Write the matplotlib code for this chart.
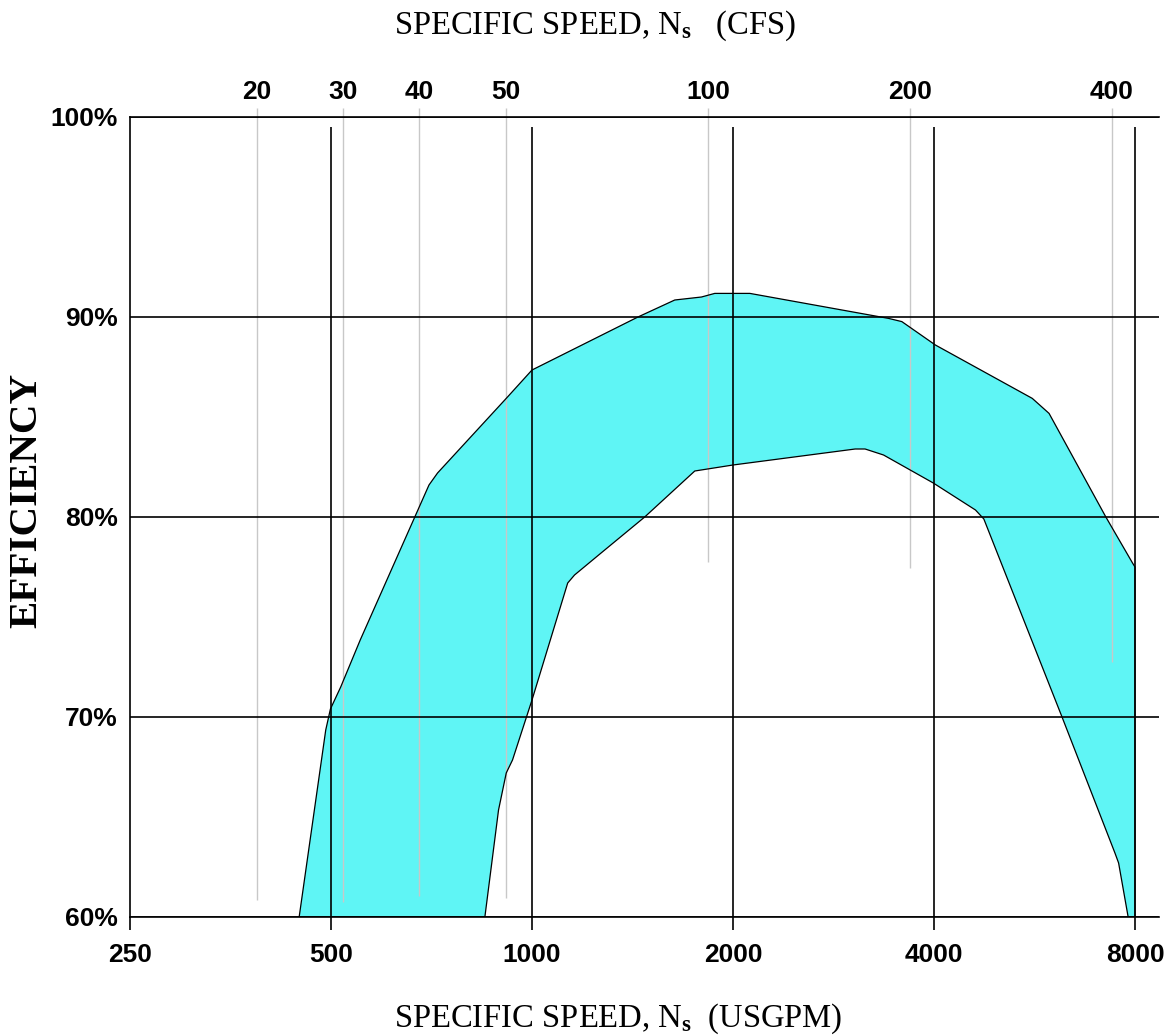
import matplotlib
matplotlib.use("Agg")
import matplotlib.pyplot as plt
from matplotlib.ticker import NullLocator

# specific speed in USGPM units (bottom scale)
usgpm_ticks = [250, 500, 1000, 2000, 4000, 8000]
usgpm_labels = ["250", "500", "1000", "2000", "4000", "8000"]
usgpm_grid = [500, 1000, 2000, 4000, 8000]

# efficiency scale
eff_ticks = [60, 70, 80, 90, 100]
eff_labels = ["60%", "70%", "80%", "90%", "100%"]

# CFS scale (top): label, where it sits on the USGPM axis, where its line stops
cfs_labels = ["20", "30", "40", "50", "100", "200", "400"]
cfs_at_usgpm = [387, 521, 678, 915, 1834, 3679, 7389]
cfs_line_bottom = [60.85, 60.77, 61.05, 60.93, 77.77, 77.43, 72.77]

# efficiency band - upper edge, left to right (ends down the 8000 line)
upper_ns = [448, 491, 499, 517, 553, 701, 722, 919, 1000, 1441, 1636, 1794,
            1878, 2120, 3420, 3580, 4019, 5614, 5948, 7235, 7932, 8000, 8000]
upper_eff = [60.0, 69.35, 70.4, 71.5, 73.85, 81.6, 82.2, 86.0, 87.35, 90.0,
             90.85, 91.0, 91.18, 91.18, 89.93, 89.77, 88.6, 85.93, 85.18,
             80.0, 77.7, 77.5, 60.0]

# efficiency band - lower edge, left to right
lower_ns = [850, 891, 915, 935, 1000, 1131, 1158, 1269, 1475, 1753, 2000,
            3048, 3154, 3361, 3990, 4615, 4750, 6220, 7465, 7560, 7813]
lower_eff = [60.0, 65.35, 67.2, 67.85, 70.85, 76.7, 77.1, 78.2, 80.0, 82.3,
             82.6, 83.4, 83.4, 83.1, 81.7, 80.35, 79.9, 70.0, 63.2, 62.7, 60.0]

plt.rcParams["font.family"] = ["Liberation Sans", "DejaVu Sans"]
plt.rcParams["mathtext.fontset"] = "custom"
plt.rcParams["mathtext.rm"] = "Liberation Serif"
plt.rcParams["mathtext.it"] = "Liberation Serif:italic"
plt.rcParams["mathtext.bf"] = "Liberation Serif:bold"

W, H = 1168, 1036
fig = plt.figure(figsize=(W / 100, H / 100), dpi=100)
ax = fig.add_axes([130 / W, 1 - 917 / H, (1159 - 130) / W, (917 - 117) / H])

ax.set_xscale("log", base=2)
ax.set_xlim(250, 8690)
ax.set_ylim(60, 100)
ax.xaxis.set_minor_locator(NullLocator())

# the band
band_x = upper_ns + lower_ns[::-1]
band_y = upper_eff + lower_eff[::-1]
ax.fill(band_x, band_y, facecolor="#5ff5f5", edgecolor="none", zorder=2)
ax.plot(band_x + band_x[:1], band_y + band_y[:1], color="black", lw=0.9, zorder=2.5)

# CFS reference lines (light grey)
ax.vlines(cfs_at_usgpm, cfs_line_bottom, 100.45, colors="#c8c8c8", lw=1.0,
          zorder=2.2, clip_on=False)

# black grid
ax.vlines(usgpm_grid, 60, 99.5, colors="black", lw=1.2, zorder=3)
ax.set_yticks(eff_ticks, eff_labels)
ax.grid(axis="y", color="black", lw=1.2, zorder=3)
ax.set_axisbelow(False)

for side in ["top", "bottom", "left"]:
    ax.spines[side].set_linewidth(1.2)
    ax.spines[side].set_zorder(3)
ax.spines["right"].set_visible(False)

ax.set_xticks(usgpm_ticks, usgpm_labels)
ax.tick_params(axis="x", direction="out", length=9.4, width=1.2, pad=9,
               labelsize=19)
ax.tick_params(axis="y", length=0, pad=8.6, labelsize=19)
for lbl in ax.get_xticklabels() + ax.get_yticklabels():
    lbl.set_fontweight("bold")

# top CFS scale
ax2 = ax.twiny()
ax2.set_xscale("log", base=2)
ax2.set_xlim(ax.get_xlim())
ax2.xaxis.set_minor_locator(NullLocator())
ax2.set_xticks(cfs_at_usgpm, cfs_labels)
ax2.tick_params(axis="x", length=0, pad=9, labelsize=19)
for lbl in ax2.get_xticklabels():
    lbl.set_fontweight("bold")
for s in ax2.spines.values():
    s.set_visible(False)

# titles
fig.text(394 / W, 1 - 34 / H, r"SPECIFIC SPEED, N$_\mathbf{s}$   (CFS)",
         ha="left", va="baseline", fontsize=23.5, family="Liberation Serif")
fig.text(394 / W, 1 - 1027 / H, r"SPECIFIC SPEED, N$_\mathbf{s}$  (USGPM)",
         ha="left", va="baseline", fontsize=23.5, family="Liberation Serif")
fig.text(27 / W, 1 - 500 / H, "EFFICIENCY", rotation=90, ha="center",
         va="center", fontsize=29.5, fontweight="bold", family="Liberation Serif")

fig.savefig("out.png", dpi=100)
